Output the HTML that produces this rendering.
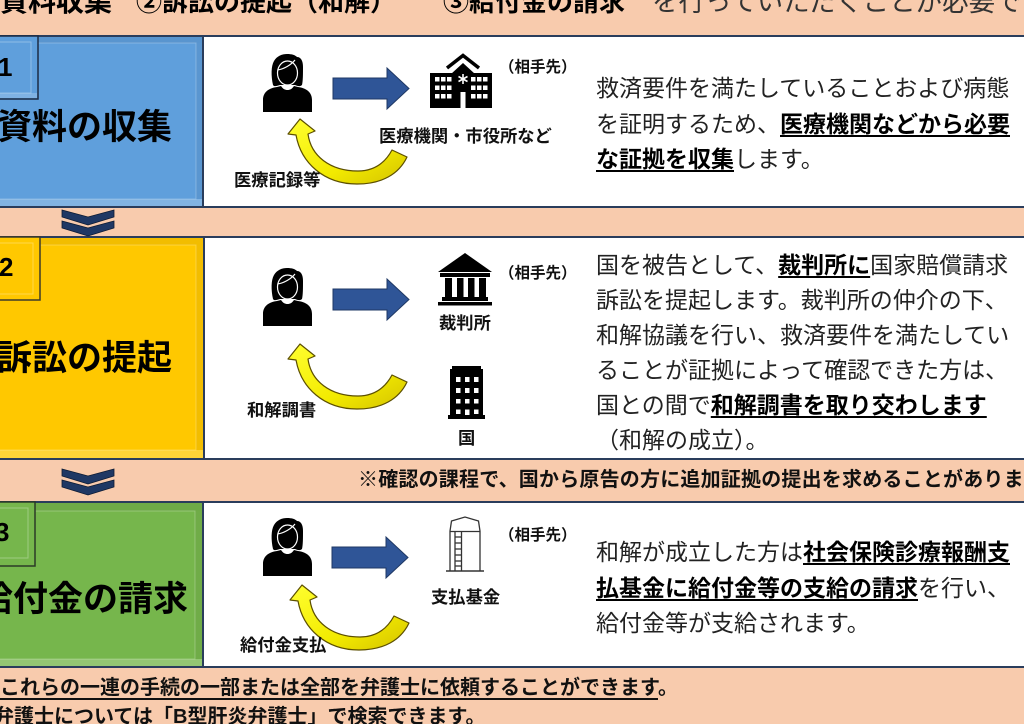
<!DOCTYPE html>
<html><head><meta charset="utf-8">
<style>
*{margin:0;padding:0;box-sizing:border-box}
html,body{width:1024px;height:724px;overflow:hidden}
body{background:#f8cbad;position:relative;font-family:"Liberation Sans","Noto Sans CJK JP",sans-serif;color:#000}
.a{position:absolute;white-space:nowrap}
.h{font-size:26px;line-height:26px;font-weight:bold;top:-11px}
.t{font-size:35px;line-height:35px;font-weight:bold;color:#000}
.n{font-size:26px;line-height:26px;font-weight:bold;font-family:"Liberation Sans",sans-serif}
.rt{font-size:23px;color:#222}
.rt b{font-weight:bold;color:#000;text-decoration:underline;text-underline-offset:3px;text-decoration-thickness:1.5px}
.lb{font-size:17.3px;line-height:17px;font-weight:bold;color:#111}
.pt{font-size:15.5px;line-height:15px;font-weight:bold;color:#111}
.nt{font-size:20px;line-height:20px;font-weight:bold;color:#111;letter-spacing:0.2px}
.u{text-decoration:underline;text-underline-offset:4px;text-decoration-thickness:1.5px}
</style></head><body>

<svg class="a" style="left:0;top:0" width="1024" height="724" viewBox="0 0 1024 724">
<defs>
<linearGradient id="yg" x1="0" y1="0" x2="1" y2="1"><stop offset="0" stop-color="#ffff30"/><stop offset="0.6" stop-color="#f2ea00"/><stop offset="1" stop-color="#d4c200"/></linearGradient>
<g id="person">
<path d="M11,31 C9,22 9,12 12,7 C15,2 20,0 25,0 C30,0 33,1 35,3 C39,3 41,7 41,13 C41,20 41,27 40,31 C38,33 35,32 33,31 L18,31 C15,32 12,33 11,31 Z" fill="#000"/>
<path d="M1,58 L1,46 C1,38 7,34 15,33 L19,32 C21,35 23,36 25.5,36 C28,36 30,35 32,32 L36,33 C44,34 50,38 50,46 L50,58 Z" fill="#000"/>
<ellipse cx="25.5" cy="19" rx="10" ry="12" fill="#000" stroke="#fff" stroke-width="1.2"/>
<path d="M15.5,16 C22,15 29,11 33,6" fill="none" stroke="#fff" stroke-width="1.2"/>
</g>
<path id="yarrow" d="M300,119 L315,131 L308,134 C311,156 330,171 358,171 C374,171 385,163 392,150 L407,157 C399,174 382,184 357,184 C324,184 301,163 296,135 L288,134 Z" fill="url(#yg)" stroke="#5c4f00" stroke-width="1.2" stroke-linejoin="round"/>
<polygon id="barrow" points="333,78 387,78 387,68 409,88.5 387,109 387,99 333,99" fill="#2f5597" stroke="#1f3864" stroke-width="1"/>
<g id="chev" fill="#1f3864" stroke="#0d1b33" stroke-width="0.8">
<polygon points="62,210 88,217 114,210 114,217 88,225 62,217"/>
<polygon points="62,221 88,228 114,221 114,228 88,236 62,228"/>
</g>
</defs>

<!-- Row 1 -->
<rect x="203" y="36" width="830" height="171" fill="#fff" stroke="#2a3d5c" stroke-width="2"/>
<rect x="-3" y="36" width="206" height="171" fill="#5f9fdc" stroke="#2a3d5c" stroke-width="2"/>
<rect x="-3" y="37" width="205" height="6" fill="#000" opacity=".06"/>
<rect x="-3" y="199" width="205" height="7" fill="#fff" opacity=".22"/>
<rect x="196" y="43" width="6" height="156" fill="#000" opacity=".05"/>
<rect x="-3" y="43" width="199" height="156" fill="none" stroke="#fff" stroke-opacity=".25"/>
<rect x="-3" y="36" width="41" height="63" fill="#5f9fdc" stroke="#1d2c45" stroke-width="1.5"/>
<rect x="-3" y="42" width="34" height="51" fill="none" stroke="#fff" stroke-opacity=".3"/>
<rect x="-2" y="93" width="39" height="5" fill="#fff" opacity=".2"/>

<!-- Row 2 -->
<rect x="204" y="237" width="830" height="222" fill="#fff" stroke="#2a3d5c" stroke-width="2"/>
<rect x="-3" y="237" width="207" height="222" fill="#ffc800" stroke="#2a3d5c" stroke-width="2"/>
<rect x="-3" y="238" width="206" height="7" fill="#000" opacity=".05"/>
<rect x="-3" y="450" width="206" height="8" fill="#fff" opacity=".22"/>
<rect x="196" y="245" width="7" height="205" fill="#000" opacity=".05"/>
<rect x="-3" y="245" width="199" height="205" fill="none" stroke="#fff" stroke-opacity=".25"/>
<rect x="-3" y="237" width="43" height="63" fill="#ffc800" stroke="#3b3a2a" stroke-width="1.5"/>
<rect x="-3" y="243" width="36" height="51" fill="none" stroke="#fff" stroke-opacity=".3"/>

<!-- Row 3 -->
<rect x="203" y="502" width="830" height="165" fill="#fff" stroke="#2a3d5c" stroke-width="2"/>
<rect x="-3" y="502" width="206" height="165" fill="#76b64c" stroke="#2a3d5c" stroke-width="2"/>
<rect x="-3" y="503" width="205" height="8" fill="#000" opacity=".06"/>
<rect x="-3" y="659" width="205" height="7" fill="#fff" opacity=".22"/>
<rect x="195" y="511" width="7" height="148" fill="#000" opacity=".05"/>
<rect x="-3" y="511" width="198" height="148" fill="none" stroke="#fff" stroke-opacity=".25"/>
<rect x="-3" y="502" width="38" height="64" fill="#76b64c" stroke="#2b3a26" stroke-width="1.5"/>
<rect x="-3" y="508" width="31" height="50" fill="none" stroke="#fff" stroke-opacity=".3"/>

<!-- chevrons -->
<use href="#chev"/>
<use href="#chev" transform="translate(0,259)"/>

<!-- persons -->
<use href="#person" transform="translate(262,54)"/>
<use href="#person" transform="translate(262,268)"/>
<use href="#person" transform="translate(262,518)"/>

<!-- blue arrows -->
<use href="#barrow"/>
<use href="#barrow" transform="translate(0,211)"/>
<use href="#barrow" transform="translate(-1,469)"/>

<!-- yellow arrows -->
<use href="#yarrow"/>
<use href="#yarrow" transform="translate(0,225)"/>
<use href="#yarrow" transform="translate(2,466)"/>

<!-- hospital -->
<polyline points="447,68 463,55.5 479,68" fill="none" stroke="#000" stroke-width="3.5"/>
<polygon points="451,74 463,63 475,74" fill="#000"/>
<rect x="430" y="73" width="62" height="35" fill="#000"/>
<g fill="#fff">
<rect x="435" y="77" width="4.5" height="4.5"/><rect x="441" y="77" width="4.5" height="4.5"/><rect x="447" y="77" width="4.5" height="4.5"/>
<rect x="435" y="85.5" width="4.5" height="4.5"/><rect x="441" y="85.5" width="4.5" height="4.5"/><rect x="447" y="85.5" width="4.5" height="4.5"/>
<rect x="435" y="94" width="4.5" height="4.5"/><rect x="441" y="94" width="4.5" height="4.5"/><rect x="447" y="94" width="4.5" height="4.5"/>
<rect x="471" y="77" width="4.5" height="4.5"/><rect x="477" y="77" width="4.5" height="4.5"/><rect x="483" y="77" width="4.5" height="4.5"/>
<rect x="471" y="85.5" width="4.5" height="4.5"/><rect x="477" y="85.5" width="4.5" height="4.5"/><rect x="483" y="85.5" width="4.5" height="4.5"/>
<rect x="471" y="94" width="4.5" height="4.5"/><rect x="477" y="94" width="4.5" height="4.5"/><rect x="483" y="94" width="4.5" height="4.5"/>
<rect x="460.5" y="92" width="5" height="16"/>
</g>
<g stroke="#fff" stroke-width="1.6">
<line x1="463" y1="74" x2="463" y2="84"/><line x1="458.5" y1="76.5" x2="467.5" y2="81.5"/><line x1="458.5" y1="81.5" x2="467.5" y2="76.5"/>
</g>

<!-- court -->
<polygon points="438,272 465,253 492,272" fill="#000"/>
<rect x="440" y="273" width="50" height="4" fill="#000"/>
<rect x="445" y="278" width="7" height="19" fill="#000"/>
<rect x="457" y="278" width="6.5" height="19" fill="#000"/>
<rect x="468" y="278" width="6.5" height="19" fill="#000"/>
<rect x="479" y="278" width="7" height="19" fill="#000"/>
<rect x="442" y="297" width="46" height="4" fill="#000"/>
<rect x="438" y="302" width="54" height="3.5" fill="#000"/>

<!-- building 国 -->
<rect x="452" y="366" width="29" height="5" fill="#000"/>
<rect x="450" y="369" width="33" height="49" fill="#000"/>
<rect x="448" y="415" width="37" height="4" fill="#000"/>
<g fill="#fff">
<rect x="456" y="377" width="4.5" height="5"/><rect x="465" y="377" width="4.5" height="5"/><rect x="474" y="377" width="4.5" height="5"/>
<rect x="456" y="388" width="4.5" height="5"/><rect x="465" y="388" width="4.5" height="5"/><rect x="474" y="388" width="4.5" height="5"/>
<rect x="456" y="399" width="4.5" height="4.5"/><rect x="465" y="399" width="4.5" height="4.5"/><rect x="474" y="399" width="4.5" height="4.5"/>
<rect x="456" y="409.5" width="4.5" height="4.5"/><rect x="465" y="409.5" width="4.5" height="5.5"/><rect x="474" y="409.5" width="4.5" height="4.5"/>
</g>

<!-- tank -->
<g fill="none" stroke="#333" stroke-width="1.3">
<path d="M450,571 L450,531 L451.5,521 L465,517 L478.5,521 L480,531 L480,571"/>
<line x1="450" y1="531.5" x2="480" y2="531.5"/>
<line x1="455" y1="531.5" x2="455" y2="571"/>
<line x1="461.5" y1="531.5" x2="461.5" y2="571"/>
<line x1="455" y1="537" x2="461.5" y2="537"/>
<line x1="455" y1="543" x2="461.5" y2="543"/>
<line x1="455" y1="549" x2="461.5" y2="549"/>
<line x1="455" y1="555" x2="461.5" y2="555"/>
<line x1="455" y1="561" x2="461.5" y2="561"/>
<line x1="455" y1="566" x2="461.5" y2="566"/>
<line x1="446" y1="571" x2="484" y2="571" stroke-width="1.6"/>
</g>
</svg>

<!-- heading -->
<div class="a h" style="left:0;font-size:28px">資料収集</div>
<div class="a h" style="left:136px">②訴訟の提起（和解）</div>
<div class="a h" style="left:443px">③給付金の請求</div>
<div class="a h" style="left:652px;font-weight:normal;color:#333;font-size:26.5px">を行っていただくことが必要です。</div>

<!-- numbers -->
<div class="a n" style="left:-2px;top:54px">1</div>
<div class="a n" style="left:-1px;top:254px">2</div>
<div class="a n" style="left:-5px;top:519px">3</div>

<!-- titles -->
<div class="a t" style="left:-3px;top:110px">資料の収集</div>
<div class="a t" style="left:-3px;top:341px">訴訟の提起</div>
<div class="a t" style="left:-22px;top:582px">給付金の請求</div>

<!-- labels row1 -->
<div class="a pt" style="left:499px;top:60px">（相手先）</div>
<div class="a lb" style="left:379px;top:128px">医療機関・市役所など</div>
<div class="a lb" style="left:234px;top:172px">医療記録等</div>

<!-- labels row2 -->
<div class="a pt" style="left:499px;top:266px">（相手先）</div>
<div class="a lb" style="left:439px;top:315px">裁判所</div>
<div class="a lb" style="left:247px;top:402px">和解調書</div>
<div class="a lb" style="left:458px;top:430px">国</div>

<!-- labels row3 -->
<div class="a pt" style="left:499px;top:528px">（相手先）</div>
<div class="a lb" style="left:431px;top:589px">支払基金</div>
<div class="a lb" style="left:240px;top:637px">給付金支払</div>

<!-- right texts -->
<div class="a rt" style="left:596px;top:71px;line-height:35.5px">救済要件を満たしていることおよび病態<br>を証明するため、<b>医療機関などから必要</b><br><b>な証拠を収集</b>します。</div>
<div class="a rt" style="left:596px;top:248px;line-height:35px">国を被告として、<b>裁判所に</b>国家賠償請求<br>訴訟を提起します。裁判所の仲介の下、<br>和解協議を行い、救済要件を満たしてい<br>ることが証拠によって確認できた方は、<br>国との間で<b>和解調書を取り交わします</b><br>（和解の成立）。</div>
<div class="a rt" style="left:596px;top:535px;line-height:35.5px">和解が成立した方は<b>社会保険診療報酬支</b><br><b>払基金に給付金等の支給の請求</b>を行い、<br>給付金等が支給されます。</div>

<!-- notes -->
<div class="a nt" style="left:358px;top:470px">※確認の課程で、国から原告の方に追加証拠の提出を求めることがあります。</div>
<div class="a nt" style="left:0;top:678px;letter-spacing:0"><span class="u">これらの一連の手続の一部または全部を弁護士に依頼することができます</span>。</div>
<div class="a nt" style="left:-6px;top:707px;letter-spacing:0">弁護士については「B型肝炎弁護士」で検索できます。</div>

</body></html>
